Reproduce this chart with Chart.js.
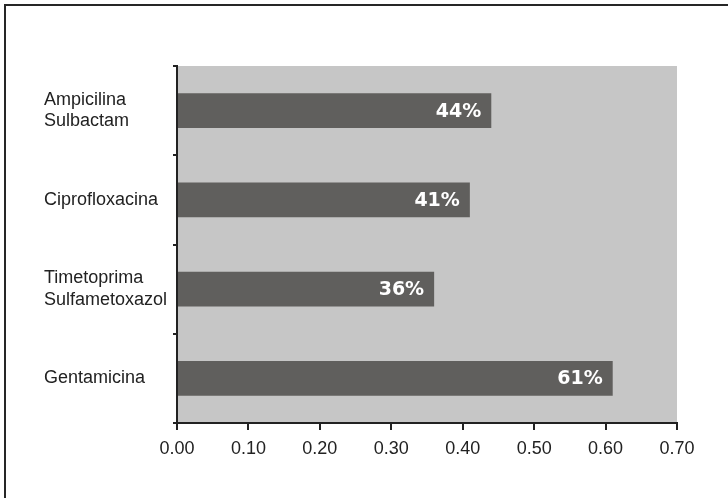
<!DOCTYPE html>
<html>
<head>
<meta charset="utf-8">
<script src="https://cdn.jsdelivr.net/npm/chart.js@4"></script>
<style>
  html, body { margin: 0; padding: 0; background: #fff; }
  #wrap { position: relative; width: 728px; height: 498px; overflow: hidden; }
  #frame {
    position: absolute; left: 4px; top: 4px; width: 760px; height: 540px;
    border-left: 2px solid #262626; border-top: 2px solid #262626;
    box-sizing: border-box; pointer-events: none;
  }
  canvas { position: absolute; left: 0; top: 0; }
</style>
</head>
<body>
<div id="wrap">
  <canvas id="chart" width="728" height="498"></canvas>
  <div id="frame"></div>
</div>
<script>
const categories = [
  ['Ampicilina', 'Sulbactam'],
  'Ciprofloxacina',
  ['Timetoprima', 'Sulfametoxazol'],
  'Gentamicina'
];
const resistance = [0.44, 0.41, 0.36, 0.61];
const xTicks = [0, 0.1, 0.2, 0.3, 0.4, 0.5, 0.6, 0.7];

const FONT = '"Liberation Sans", Arial, Helvetica, sans-serif';

// grey plot background behind the bars
const plotBg = {
  id: 'plotBg',
  beforeDraw(chart) {
    const { ctx, chartArea: a } = chart;
    ctx.save();
    ctx.fillStyle = '#c6c6c6';
    ctx.fillRect(a.left, a.top, a.right - a.left, a.bottom - a.top);
    ctx.restore();
  }
};

// percentage label at the inner end of each bar
const barLabels = {
  id: 'barLabels',
  afterDatasetsDraw(chart) {
    const { ctx } = chart;
    const meta = chart.getDatasetMeta(0);
    ctx.save();
    ctx.fillStyle = '#ffffff';
    ctx.font = 'bold 19px "DejaVu Sans", sans-serif';
    ctx.textAlign = 'right';
    ctx.textBaseline = 'middle';
    meta.data.forEach((bar, i) => {
      ctx.fillText(Math.round(resistance[i] * 100) + '%', bar.x - 10, bar.y + 1);
    });
    ctx.restore();
  }
};

new Chart(document.getElementById('chart'), {
  type: 'bar',
  data: {
    labels: categories,
    datasets: [{
      data: resistance,
      backgroundColor: '#605f5d',
      borderWidth: 0,
      categoryPercentage: 1,
      barPercentage: 0.39
    }]
  },
  options: {
    indexAxis: 'y',
    responsive: false,
    animation: false,
    events: [],
    layout: { padding: { top: 66, right: 51, left: 44, bottom: 0 } },
    plugins: { legend: { display: false }, tooltip: { enabled: false } },
    scales: {
      x: {
        min: 0,
        max: 0.7,
        afterBuildTicks: (s) => { s.ticks = xTicks.map(v => ({ value: v })); },
        afterFit: (s) => { s.height = 75; },
        border: { color: '#222', width: 2 },
        grid: { drawOnChartArea: false, color: '#222', lineWidth: 2, tickLength: 7 },
        ticks: {
          color: '#222',
          padding: 8,
          font: { family: FONT, size: 18 },
          callback: (v) => Number(v).toFixed(2)
        }
      },
      y: {
        afterFit: (s) => { s.width = 133; },
        border: { color: '#222', width: 2 },
        grid: { drawOnChartArea: false, color: '#222', lineWidth: 2, tickLength: 4 },
        ticks: {
          color: '#222',
          crossAlign: 'far',
          font: { family: FONT, size: 18, lineHeight: 1.2 }
        }
      }
    }
  },
  plugins: [plotBg, barLabels]
});
</script>
</body>
</html>
